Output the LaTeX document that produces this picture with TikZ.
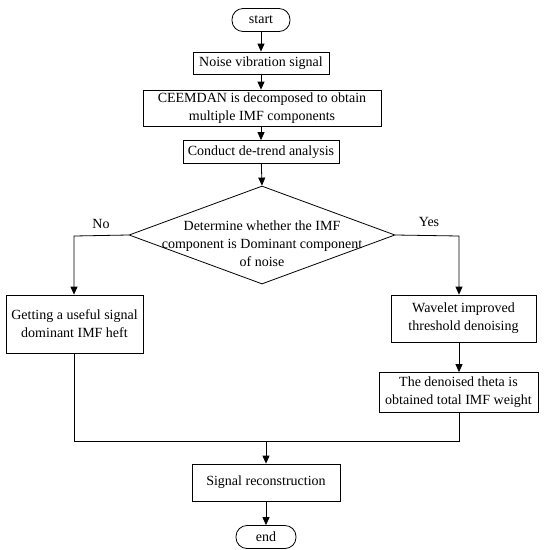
\documentclass[tikz,border=0pt]{standalone}
\usepackage{fontspec}
\setmainfont{Liberation Serif}
\usetikzlibrary{arrows.meta,shapes.geometric}
\begin{document}
\begin{tikzpicture}[x=1pt,y=-1pt,
  every node/.style={font=\fontsize{14}{18}\selectfont},
  box/.style={draw, line width=0.8pt, inner sep=0pt, align=center},
  term/.style={draw, line width=0.8pt, inner sep=0pt, rounded corners=11pt, minimum width=58pt, minimum height=23pt},
  arr/.style={line width=0.8pt, -{Triangle[length=8pt,width=7pt]}},
  ln/.style={line width=0.8pt}]
\useasboundingbox (0,0) rectangle (545,550);
\node[term] (start) at (261,20) {start};
\node[box, minimum width=136pt, minimum height=22pt] (noise) at (261,63) {Noise vibration signal};
\node[box, minimum width=238pt, minimum height=36pt] (ceem) at (262,108) {CEEMDAN is decomposed to obtain\\multiple IMF components};
\node[box, minimum width=156pt, minimum height=23pt] (trend) at (261,152) {Conduct de-trend analysis};
\node[draw, diamond, line width=0.8pt, inner sep=0pt, minimum width=266pt, minimum height=98pt] (dec) at (262,235) {};
\node[align=center, inner sep=0pt] (dectext) at (262,244) {Determine whether the IMF\\component is Dominant component\\of noise};
\node[inner sep=0pt] (no) at (101,224) {No};
\node[inner sep=0pt] (yes) at (429,222) {Yes};
\node[box, minimum width=137pt, minimum height=58pt] (useful) at (74.5,324) {Getting a useful signal\\dominant IMF heft};
\node[box, minimum width=145pt, minimum height=47pt] (wave) at (463.5,318.5) {Wavelet improved\\threshold denoising};
\node[box, minimum width=159pt, minimum height=40pt] (theta) at (458.5,392.5) {The denoised theta is\\obtained total IMF weight};
\node[box, minimum width=148pt, minimum height=37pt] (recon) at (266,482.5) {Signal reconstruction};
\node[term, minimum width=60pt] (end) at (266,537) {end};
\coordinate (lc) at (74,236);
\coordinate (rc) at (459,236);
\coordinate (bl) at (74,441);
\coordinate (br) at (459,441);
\coordinate (bm) at (266,441);
\draw[arr] (start) -- (noise);
\draw[arr] (noise) -- (noise |- ceem.north);
\draw[arr] (ceem.south -| trend) -- (trend);
\draw[arr] (trend) -- (dec.north);
\draw[arr] (dec.west) -- (lc) -- (useful.north -| lc);
\draw[arr] (dec.east) -- (rc) -- (wave.north -| rc);
\draw[arr] (wave.south -| rc) -- (theta.north -| rc);
\draw[ln] (useful.south -| bl) -- (bl) -- (br) -- (theta.south -| br);
\draw[arr] (bm) -- (recon);
\draw[arr] (recon) -- (end);
\end{tikzpicture}
\end{document}
